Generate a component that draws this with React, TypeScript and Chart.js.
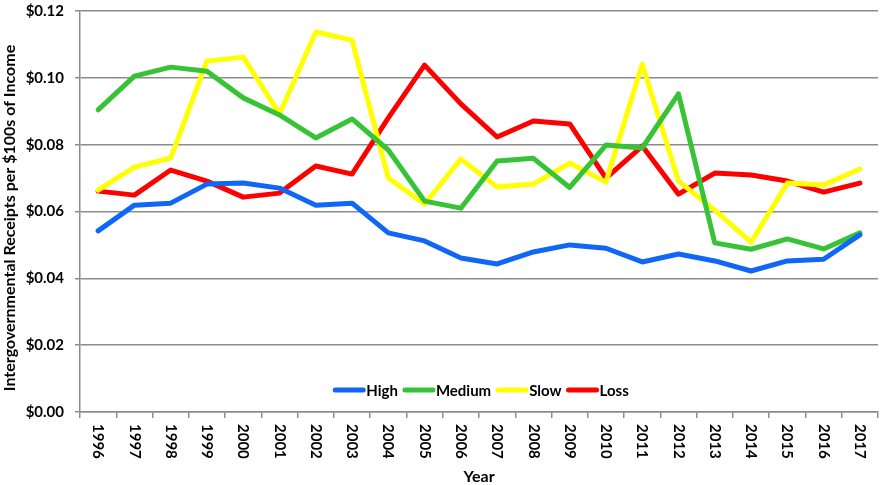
import React, { useEffect, useRef } from "react";
import { Chart, registerables } from "chart.js";

Chart.register(...registerables);

const years = ["1996","1997","1998","1999","2000","2001","2002","2003","2004","2005","2006","2007","2008","2009","2010","2011","2012","2013","2014","2015","2016","2017"];
const high = [0.0542,0.0619,0.0625,0.0682,0.0685,0.0670,0.0619,0.0625,0.0536,0.0512,0.0461,0.0443,0.0479,0.0500,0.0490,0.0449,0.0473,0.0452,0.0422,0.0452,0.0457,0.0530];
const medium = [0.0904,0.1005,0.1032,0.1020,0.0940,0.0889,0.0820,0.0877,0.0784,0.0631,0.0610,0.0751,0.0759,0.0672,0.0799,0.0790,0.0952,0.0506,0.0487,0.0518,0.0488,0.0536];
const slow = [0.0664,0.0733,0.0760,0.1050,0.1062,0.0892,0.1137,0.1113,0.0700,0.0622,0.0757,0.0673,0.0682,0.0745,0.0688,0.1041,0.0691,0.0604,0.0508,0.0685,0.0679,0.0727];
const loss = [0.0661,0.0649,0.0724,0.0691,0.0643,0.0655,0.0736,0.0712,0.0880,0.1038,0.0922,0.0823,0.0871,0.0862,0.0700,0.0796,0.0652,0.0715,0.0709,0.0691,0.0658,0.0685];
const seriesNames = ["High", "Medium", "Slow", "Loss"];
const seriesColors = ["#0F66F7", "#36C336", "#FFFF00", "#FF0000"];
const yTitle = "Intergovernmental Receipts per $100s of Income";
const xTitle = "Year";

const FONT = "Lato";

const overlay = {
  id: "overlay",
  afterDraw(chart: any) {
    const ctx = chart.ctx;
    const area = chart.chartArea;
    const xs = chart.scales.x;
    ctx.save();
    // x labels rotated clockwise
    ctx.fillStyle = "#000";
    ctx.font = `bold 15px ${FONT}`;
    ctx.textAlign = "left";
    ctx.textBaseline = "middle";
    years.forEach((lab, i) => {
      const px = xs.getPixelForValue(i);
      ctx.save();
      ctx.translate(px, area.bottom + 12);
      ctx.rotate(Math.PI / 2);
      ctx.fillText(lab, 0, 0);
      ctx.restore();
    });
    // x title
    ctx.font = `bold 16px ${FONT}`;
    ctx.textAlign = "center";
    ctx.fillText(xTitle, (area.left + area.right) / 2, 477);
    // y title
    ctx.save();
    ctx.translate(10, 218);
    ctx.rotate(-Math.PI / 2);
    ctx.font = `bold 16px ${FONT}`;
    ctx.textAlign = "center";
    ctx.fillText(yTitle, 0, 0);
    ctx.restore();
    // legend
    ctx.font = `bold 15px ${FONT}`;
    const sw = 32, gapText = 1, gapItem = 5;
    const widths = seriesNames.map((n) => sw + gapText + ctx.measureText(n).width);
    const total = widths.reduce((a, b) => a + b, 0) + gapItem * (seriesNames.length - 1);
    let x = 481 - total / 2;
    const y = 390;
    ctx.textAlign = "left";
    seriesNames.forEach((n, i) => {
      ctx.strokeStyle = seriesColors[i];
      ctx.lineWidth = 5;
      ctx.lineCap = "round";
      ctx.beginPath();
      ctx.moveTo(x + 2, y);
      ctx.lineTo(x + sw - 2, y);
      ctx.stroke();
      ctx.fillStyle = "#000";
      ctx.fillText(n, x + sw + gapText, y + 1);
      x += widths[i] + gapItem;
    });
    ctx.restore();
  },
};

export default function App() {
  const ref = useRef<HTMLCanvasElement>(null);
  useEffect(() => {
    document.body.style.margin = "0";
    const grey = "#8c8c8c";
    const chart = new Chart(ref.current as HTMLCanvasElement, {
      type: "line",
      data: {
        labels: years,
        datasets: [high, medium, slow, loss].map((d, i) => ({
          label: seriesNames[i],
          data: d,
          borderColor: seriesColors[i],
          backgroundColor: seriesColors[i],
          borderWidth: 5,
          pointRadius: 0,
          tension: 0,
          borderJoinStyle: "round" as const,
          borderCapStyle: "round" as const,
        })),
      },
      options: {
        animation: false,
        responsive: false,
        devicePixelRatio: 1,
        layout: { padding: { top: 11, right: 4, left: 0, bottom: 0 } },
        plugins: { legend: { display: false }, tooltip: { enabled: false } },
        scales: {
          x: {
            offset: true,
            ticks: { display: false },
            grid: { display: true, drawOnChartArea: false, drawTicks: true, tickLength: 6, color: grey, lineWidth: 1.5, offset: true },
            border: { display: true, color: grey, width: 1.5 },
            afterFit: (s: any) => { s.height = 73; s.paddingLeft = 0; s.paddingRight = 0; },
          },
          y: {
            min: 0,
            max: 0.12,
            ticks: {
              stepSize: 0.02,
              padding: 11,
              color: "#000",
              font: { family: FONT, weight: "bold", size: 15 },
              callback: (v: any) => "$" + Number(v).toFixed(2),
            },
            grid: { color: grey, lineWidth: 1.5, tickLength: 5 },
            border: { display: true, color: grey, width: 1.5 },
            afterFit: (s: any) => { s.width = 80; s.paddingTop = 0; s.paddingBottom = 0; },
          },
        },
      },
      plugins: [overlay],
    });
    return () => chart.destroy();
  }, []);
  return <canvas ref={ref} width={882} height={485} style={{ display: "block" }} />;
}
